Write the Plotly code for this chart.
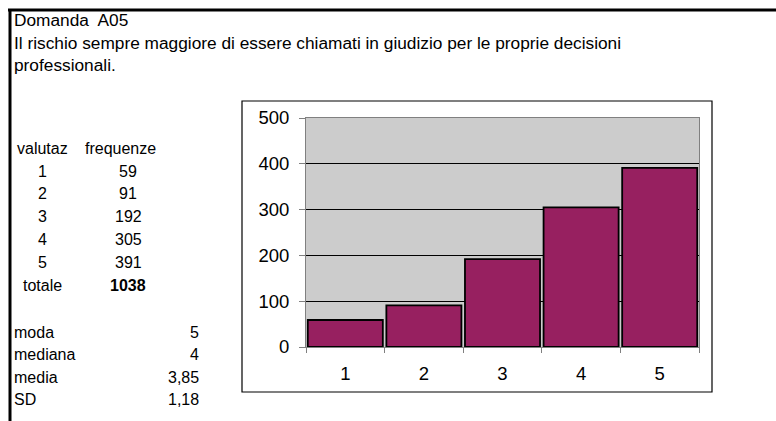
import plotly.graph_objects as go

W, H = 776, 421

# ---- data ----
title_lines = ["Domanda  A05",
               "Il rischio sempre maggiore di essere chiamati in giudizio per le proprie decisioni",
               "professionali."]
categories = ["1", "2", "3", "4", "5"]
frequenze = [59, 91, 192, 305, 391]
totale = 1038
stat_labels = ["moda", "mediana", "media", "SD"]
stat_values = ["5", "4", "3,85", "1,18"]
y_ticks = [0, 100, 200, 300, 400, 500]

FONT = "Arial, Liberation Sans, sans-serif"
FS_T = 17.3
FS = 16
FS_AX = 18.5


def px(x):
    return x / W


def py(y):
    return 1 - y / H


def txt(x, y, t, anchor, size=FS):
    return dict(xref="paper", yref="paper", x=px(x), y=py(y), text=t, xanchor=anchor,
                yanchor="middle", showarrow=False, font=dict(size=size))


fig = go.Figure()
fig.add_trace(go.Bar(
    x=categories, y=frequenze,
    marker=dict(color="#972060", line=dict(color="black", width=1.8)),
    hoverinfo="skip",
))

ann = []
for i, t in enumerate(title_lines):
    ann.append(txt(12, 20 + i * 22.5, t, "left", FS_T))

ann.append(txt(42, 148, "valutaz", "center"))
ann.append(txt(120, 148, "frequenze", "center"))
for i, (c, f) in enumerate(zip(categories, frequenze)):
    yy = 171 + i * 22.8
    ann.append(txt(42, yy, c, "center"))
    ann.append(txt(128, yy, str(f), "center"))
ann.append(txt(42, 285, "totale", "center"))
ann.append(txt(128, 285, "<b>%d</b>" % totale, "center"))
for i, (l, v) in enumerate(zip(stat_labels, stat_values)):
    yy = 332 + i * 22.5
    ann.append(txt(12, yy, l, "left"))
    ann.append(txt(201, yy, v, "right"))

shapes = [
    dict(type="line", xref="paper", yref="paper", x0=px(8), x1=1, y0=py(10), y1=py(10),
         line=dict(color="black", width=3)),
    dict(type="line", xref="paper", yref="paper", x0=px(10), x1=px(10), y0=py(9), y1=0,
         line=dict(color="black", width=3)),
    dict(type="rect", xref="paper", yref="paper", x0=px(242), x1=px(712), y0=py(101), y1=py(392),
         line=dict(color="black", width=1.2)),
]

fig.update_layout(
    width=W, height=H,
    margin=dict(l=0, r=0, t=0, b=0, autoexpand=False),
    paper_bgcolor="white",
    plot_bgcolor="#CCCCCC",
    font=dict(family=FONT, size=FS, color="black"),
    showlegend=False,
    bargap=0.045,
    annotations=ann,
    shapes=shapes,
    xaxis=dict(domain=[px(306), px(699)], type="category", tickson="boundaries",
               ticks="outside", ticklen=5, tickcolor="#808080",
               showline=True, linecolor="#808080", linewidth=1, mirror=True,
               showgrid=False, tickfont=dict(size=FS_AX), ticklabelstandoff=10),
    yaxis=dict(domain=[py(347), py(118)], range=[0, 500], tickvals=y_ticks,
               ticks="outside", ticklen=6, tickcolor="#808080",
               showline=True, linecolor="#808080", linewidth=1, mirror=True,
               showgrid=True, gridcolor="black", gridwidth=1,
               zeroline=False, tickfont=dict(size=FS_AX), ticklabelstandoff=6),
)

fig.write_html("out.html", config=dict(displayModeBar=False),
               post_script="document.body.style.margin='0';document.body.style.overflow='hidden';")
